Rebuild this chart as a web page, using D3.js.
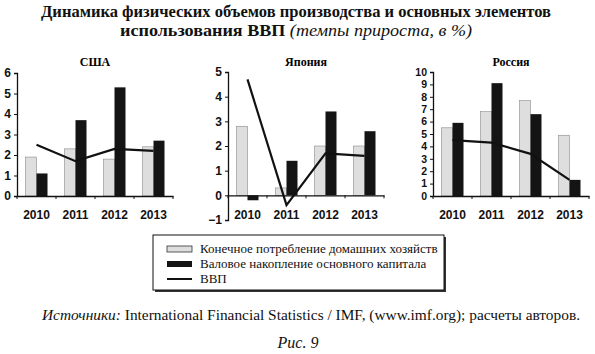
<!DOCTYPE html>
<html>
<head>
<meta charset="utf-8">
<script src="https://cdn.jsdelivr.net/npm/d3@7"></script>
<style>
  body { margin: 0; background: #fff; }
  svg { display: block; }
  .serif { font-family: "Liberation Serif", "DejaVu Serif", serif; }
  .tick text { font-family: "Liberation Sans", Arial, sans-serif; fill: #111; }
</style>
</head>
<body>
<svg id="chart" width="595" height="354"></svg>
<script>
const years = ["2010", "2011", "2012", "2013"];

const usaConsumption = [1.9, 2.3, 1.8, 2.4];
const usaInvestment = [1.1, 3.7, 5.3, 2.7];
const usaGdp = [2.5, 1.7, 2.3, 2.2];

const japanConsumption = [2.8, 0.3, 2.0, 2.0];
const japanInvestment = [-0.2, 1.4, 3.4, 2.6];
const japanGdp = [4.7, -0.4, 1.7, 1.6];

const russiaConsumption = [5.5, 6.8, 7.7, 4.9];
const russiaInvestment = [5.9, 9.1, 6.6, 1.3];
const russiaGdp = [4.5, 4.3, 3.4, 1.3];

const legendLabels = [
  "Конечное потребление домашних хозяйств",
  "Валовое накопление основного капитала",
  "ВВП"
];

const colors = { light: "#dedede", lightStroke: "#8a8a8a", dark: "#141414", line: "#111" };

const panels = [
  { name: "США", cons: usaConsumption, inv: usaInvestment, gdp: usaGdp,
    domain: [0, 6], ticks: d3.range(0, 7), left: 17, top: 73, bottom: 196, tickFont: 12 },
  { name: "Япония", cons: japanConsumption, inv: japanInvestment, gdp: japanGdp,
    domain: [-1, 5], ticks: d3.range(-1, 6), left: 228, top: 72, bottom: 220, tickFont: 12 },
  { name: "Россия", cons: russiaConsumption, inv: russiaInvestment, gdp: russiaGdp,
    domain: [0, 10], ticks: d3.range(0, 11), left: 433, top: 72, bottom: 196, tickFont: 10.5 }
];

const svg = d3.select("#chart");
const panelWidth = 156;

// title
const title = svg.append("text")
  .attr("class", "serif")
  .attr("text-anchor", "middle")
  .attr("font-weight", "bold")
  .attr("font-size", 16)
  .attr("fill", "#111");
title.append("tspan").attr("x", 296).attr("y", 17)
  .attr("textLength", 510).attr("lengthAdjust", "spacingAndGlyphs")
  .text("Динамика физических объемов производства и основных элементов");
const t2 = svg.append("text")
  .attr("class", "serif")
  .attr("x", 120).attr("y", 36)
  .attr("font-weight", "bold")
  .attr("font-size", 16)
  .attr("fill", "#111")
  .attr("textLength", 352).attr("lengthAdjust", "spacingAndGlyphs");
t2.append("tspan").text("использования ВВП ");
t2.append("tspan").attr("font-style", "italic").attr("font-weight", "normal")
  .text("(темпы прироста, в %)");

panels.forEach(p => {
  const g = svg.append("g");
  const x = d3.scaleBand().domain(years).range([p.left, p.left + panelWidth]);
  const y = d3.scaleLinear().domain(p.domain).range([p.bottom, p.top]);
  const barW = 11;

  g.append("text")
    .attr("class", "serif")
    .attr("x", p.left + panelWidth / 2)
    .attr("y", 66)
    .attr("text-anchor", "middle")
    .attr("font-weight", "bold")
    .attr("font-size", 12)
    .text(p.name);

  // bars
  g.selectAll(".cons").data(p.cons).enter().append("rect")
    .attr("x", (d, i) => x(years[i]) + x.bandwidth() / 2 - barW)
    .attr("y", d => y(Math.max(0, d)))
    .attr("width", barW)
    .attr("height", d => Math.abs(y(d) - y(0)))
    .attr("fill", colors.light)
    .attr("stroke", colors.lightStroke)
    .attr("stroke-width", 0.6);

  g.selectAll(".inv").data(p.inv).enter().append("rect")
    .attr("x", (d, i) => x(years[i]) + x.bandwidth() / 2)
    .attr("y", d => y(Math.max(0, d)))
    .attr("width", barW)
    .attr("height", d => Math.abs(y(d) - y(0)))
    .attr("fill", colors.dark);

  // y axis
  const yAxis = g.append("g")
    .attr("transform", "translate(" + p.left + ",0)")
    .call(d3.axisLeft(y).tickValues(p.ticks).tickSize(3).tickPadding(3).tickFormat(d3.format("d")));
  yAxis.select(".domain").attr("stroke", "#111").attr("stroke-width", 1.3);
  yAxis.selectAll(".tick line").attr("stroke", "#111");
  yAxis.selectAll(".tick text").attr("font-weight", "bold").attr("font-size", p.tickFont);

  // x axis at zero
  const xAxis = g.append("g")
    .attr("transform", "translate(0," + y(0) + ")")
    .call(d3.axisBottom(x).tickSize(0).tickFormat(""));
  xAxis.select(".domain").attr("stroke", "#111").attr("stroke-width", 1.3);
  xAxis.selectAll(".tick").remove();
  xAxis.selectAll(".sep").data(d3.range(years.length + 1)).enter().append("line")
    .attr("x1", i => p.left + i * x.step())
    .attr("x2", i => p.left + i * x.step())
    .attr("y1", 0).attr("y2", 3)
    .attr("stroke", "#111");

  // year labels
  g.selectAll(".yr").data(years).enter().append("text")
    .attr("x", d => x(d) + x.bandwidth() / 2)
    .attr("y", 219)
    .attr("text-anchor", "middle")
    .attr("font-family", "Liberation Sans, Arial, sans-serif")
    .attr("font-weight", "bold")
    .attr("font-size", 12)
    .attr("fill", "#111")
    .text(d => d);

  // GDP line
  const line = d3.line()
    .x((d, i) => x(years[i]) + x.bandwidth() / 2)
    .y(d => y(d));
  g.append("path")
    .datum(p.gdp)
    .attr("d", line)
    .attr("fill", "none")
    .attr("stroke", colors.line)
    .attr("stroke-width", 2.2);
});

// legend
const lg = svg.append("g");
lg.append("rect").attr("x", 155).attr("y", 237).attr("width", 291).attr("height", 55)
  .attr("fill", "#333");
lg.append("rect").attr("x", 153).attr("y", 235).attr("width", 291).attr("height", 55)
  .attr("fill", "#fff").attr("stroke", "#111").attr("stroke-width", 1);

const rowY = [249, 264, 279];
legendLabels.forEach((label, i) => {
  if (i === 0) {
    lg.append("rect").attr("x", 167).attr("y", rowY[i] - 3).attr("width", 25).attr("height", 6)
      .attr("fill", colors.light).attr("stroke", "#333").attr("stroke-width", 0.8);
  } else if (i === 1) {
    lg.append("rect").attr("x", 167).attr("y", rowY[i] - 3).attr("width", 25).attr("height", 6)
      .attr("fill", colors.dark);
  } else {
    lg.append("line").attr("x1", 167).attr("x2", 192).attr("y1", rowY[i]).attr("y2", rowY[i])
      .attr("stroke", colors.line).attr("stroke-width", 2);
  }
  lg.append("text").attr("class", "serif")
    .attr("x", 200).attr("y", rowY[i] + 4)
    .attr("font-size", 13).attr("fill", "#111")
    .text(label);
});

// source
const src = svg.append("text").attr("class", "serif")
  .attr("x", 42).attr("y", 320)
  .attr("font-size", 14).attr("fill", "#111")
  .attr("textLength", 538).attr("lengthAdjust", "spacingAndGlyphs");
src.append("tspan").attr("font-style", "italic").text("Источники: ");
src.append("tspan").text("International Financial Statistics / IMF, (www.imf.org); расчеты авторов.");

svg.append("text").attr("class", "serif")
  .attr("x", 298).attr("y", 348).attr("text-anchor", "middle")
  .attr("font-size", 16).attr("font-style", "italic").attr("fill", "#111")
  .text("Рис. 9");
</script>
</body>
</html>
